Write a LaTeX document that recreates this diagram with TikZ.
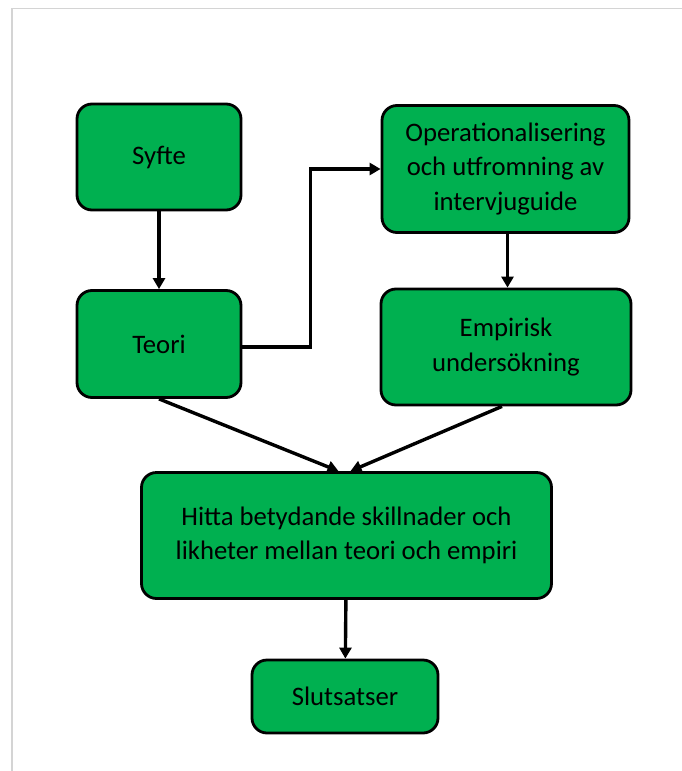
\documentclass[tikz,border=0pt]{standalone}
\usepackage{fontspec}
\setmainfont{Carlito}
\usetikzlibrary{arrows.meta,calc}
\definecolor{boxgreen}{HTML}{00B050}
\definecolor{framegray}{HTML}{D4D4D4}
\tikzset{
  flowbox/.style={draw=black, line width=2.8pt, fill=boxgreen, rounded corners=15pt,
    align=center, inner sep=0pt, font=\fontsize{26.7}{34.5}\selectfont, text=black},
  conn/.style={draw=black, line width=3.4pt, -{Triangle[length=11pt,width=12pt]}},
}
\begin{document}
\begin{tikzpicture}[x=1pt,y=-1pt]
\useasboundingbox (0,0) rectangle (682,771);
\fill[white] (0,0) rectangle (682,771);
\draw[framegray, line width=1.5pt] (682,8.5) -- (12,8.5) -- (12,771);

\node[flowbox, minimum width=164pt, minimum height=106pt] (syfte) at (159,157) {Syfte};
\node[flowbox, minimum width=164pt, minimum height=107pt] (teori) at (159,344) {Teori};
\node[flowbox, minimum width=247pt, minimum height=127pt] (op) at (505.5,169) {Operationalisering\\och utfromning av\\intervjuguide};
\node[flowbox, minimum width=250pt, minimum height=116pt] (emp) at (506,347) {Empirisk\\undersökning};
\node[flowbox, minimum width=410pt, minimum height=126pt] (hitta) at (346.5,535.5) {Hitta betydande skillnader och\\likheter mellan teori och empiri};
\node[flowbox, minimum width=186pt, minimum height=73pt] (slut) at (345,696.5) {Slutsatser};

\coordinate (hl) at ($(hitta.north)+(-8,0)$);
\coordinate (hr) at ($(hitta.north)+(4,0)$);

\draw[conn] (syfte) -- (teori);
\draw[conn] ($(teori.east)+(0,3)$) -- ++(68,0) |- (op.west);
\draw[conn] ($(op.south)+(2,0)$) -- ($(emp.north)+(1.5,0)$);
\draw[conn] (teori.south) -- (hl);
\draw[conn] ($(emp.south)+(-4,0)$) -- (hr);
\draw[conn] (hitta) -- (slut);
\end{tikzpicture}
\end{document}
